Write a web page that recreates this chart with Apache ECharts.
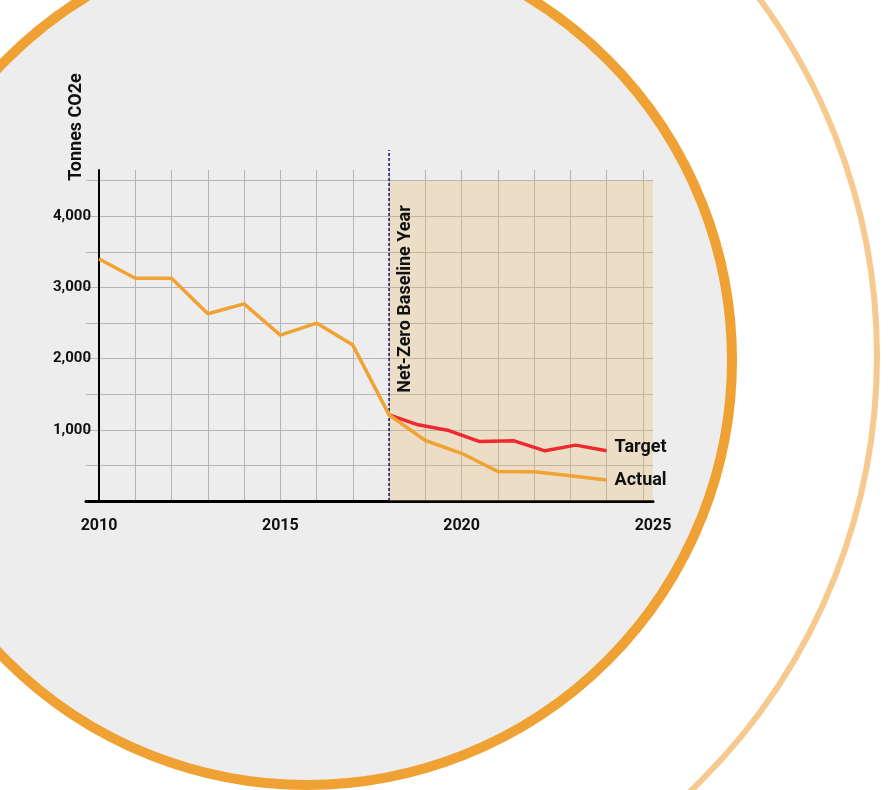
<!DOCTYPE html>
<html>
<head>
<meta charset="utf-8">
<script src="https://cdn.jsdelivr.net/npm/echarts@6/dist/echarts.min.js"></script>
<style>
  html, body { margin: 0; padding: 0; background: #fff; }
  #chart { width: 889px; height: 790px; }
</style>
</head>
<body>
<div id="chart"></div>
<script>
// actual emissions, one point per year
const actualYears = [2010, 2011, 2012, 2013, 2014, 2015, 2016, 2017, 2018, 2019, 2020, 2021, 2022, 2023, 2024];
const actualValues = [3400, 3130, 3130, 2630, 2770, 2330, 2500, 2190, 1210, 850, 670, 415, 410, 355, 295];

// target path (points are not on whole years in the original)
const targetYears = [2018, 2018.8, 2019.65, 2020.5, 2021.45, 2022.3, 2023.15, 2024];
const targetValues = [1210, 1070, 990, 835, 845, 705, 785, 705];

const baselineYear = 2018;
const xLabelYears = [2010, 2015, 2020];
const lastLabel = "2025";
const yLabelValues = [1000, 2000, 3000, 4000];

const X_MIN = 2009.64;
const X_MAX = 2025.28;
const Y_MAX = 4650;
const SHADE_TOP = 4500;
const BASELINE_TOP = 4930;

const pairs = (xs, ys) => xs.map((x, i) => [x, ys[i]]);

const textFont = 'Roboto, "Liberation Sans", sans-serif';

const chart = echarts.init(document.getElementById("chart"), null, { renderer: "canvas" });

chart.setOption({
  animation: false,
  backgroundColor: "#fff",
  graphic: {
    elements: [
      {
        type: "circle",
        z: -100,
        shape: { cx: 276, cy: 356, r: 601 },
        style: { fill: "none", stroke: "#f6ca8f", lineWidth: 6 }
      },
      {
        type: "circle",
        z: -99,
        shape: { cx: 307, cy: 360, r: 425 },
        style: { fill: "#ededed", stroke: "#efa233", lineWidth: 10 }
      },
      {
        type: "text",
        x: 76,
        y: 127,
        rotation: Math.PI / 2,
        style: {
          text: "Tonnes CO2e",
          font: 'bold 18px ' + textFont,
          fill: "#111",
          textAlign: "center",
          textVerticalAlign: "middle"
        }
      },
      {
        type: "text",
        x: 405,
        y: 299,
        z: 10,
        rotation: Math.PI / 2,
        style: {
          text: "Net-Zero Baseline Year",
          font: 'bold 18px ' + textFont,
          fill: "#111",
          textAlign: "center",
          textVerticalAlign: "middle"
        }
      }
    ]
  },
  grid: {
    left: 86,
    right: 236,
    top: 170,
    bottom: 289,
    containLabel: false
  },
  xAxis: {
    type: "value",
    min: X_MIN,
    max: X_MAX,
    splitNumber: 15,
    axisLine: { lineStyle: { color: "#000", width: 3 } },
    axisTick: { show: false },
    axisLabel: {
      margin: 17,
      fontFamily: textFont,
      fontSize: 16,
      fontWeight: "bold",
      color: "#111",
      showMinLabel: true,
      showMaxLabel: true,
      hideOverlap: false,
      formatter: v => {
        if (Math.abs(v - X_MAX) < 0.001) return lastLabel;
        return xLabelYears.includes(v) ? String(v) : "";
      }
    },
    splitLine: {
      show: true,
      showMinLine: false,
      showMaxLine: false,
      lineStyle: { color: "#b4b4b4", width: 1 }
    }
  },
  yAxis: {
    type: "value",
    min: 0,
    max: Y_MAX,
    interval: 500,
    offset: -13,
    axisLine: { show: true, lineStyle: { color: "#000", width: 2 } },
    axisTick: { show: false },
    axisLabel: {
      margin: 8,
      fontFamily: textFont,
      fontSize: 15,
      fontWeight: "bold",
      color: "#111",
      formatter: v => (yLabelValues.includes(v) ? v.toLocaleString("en-US") : "")
    },
    splitLine: {
      show: true,
      showMaxLine: false,
      lineStyle: { color: "#b4b4b4", width: 1 }
    }
  },
  series: [
    {
      name: "Baseline",
      type: "line",
      clip: false,
      symbol: "none",
      z: 3,
      lineStyle: { color: "#23236e", width: 1.6, type: [3, 2] },
      data: [[baselineYear, 0], [baselineYear, BASELINE_TOP]],
      markArea: {
        silent: true,
        itemStyle: { color: "rgba(234,184,114,0.3)" },
        data: [[{ coord: [baselineYear, 0] }, { coord: [X_MAX, SHADE_TOP] }]]
      }
    },
    {
      name: "Target",
      type: "line",
      symbol: "none",
      z: 4,
      lineStyle: { color: "#ee2a2e", width: 3.5 },
      data: pairs(targetYears, targetValues),
      endLabel: {
        show: true,
        formatter: "Target",
        distance: 8,
        offset: [0, -3],
        fontFamily: textFont,
        fontSize: 18,
        fontWeight: "bold",
        color: "#111"
      }
    },
    {
      name: "Actual",
      type: "line",
      symbol: "none",
      z: 5,
      lineStyle: { color: "#f0a233", width: 3.5 },
      data: pairs(actualYears, actualValues),
      endLabel: {
        show: true,
        formatter: "Actual",
        distance: 8,
        fontFamily: textFont,
        fontSize: 18,
        fontWeight: "bold",
        color: "#111"
      }
    }
  ]
});
</script>
</body>
</html>
